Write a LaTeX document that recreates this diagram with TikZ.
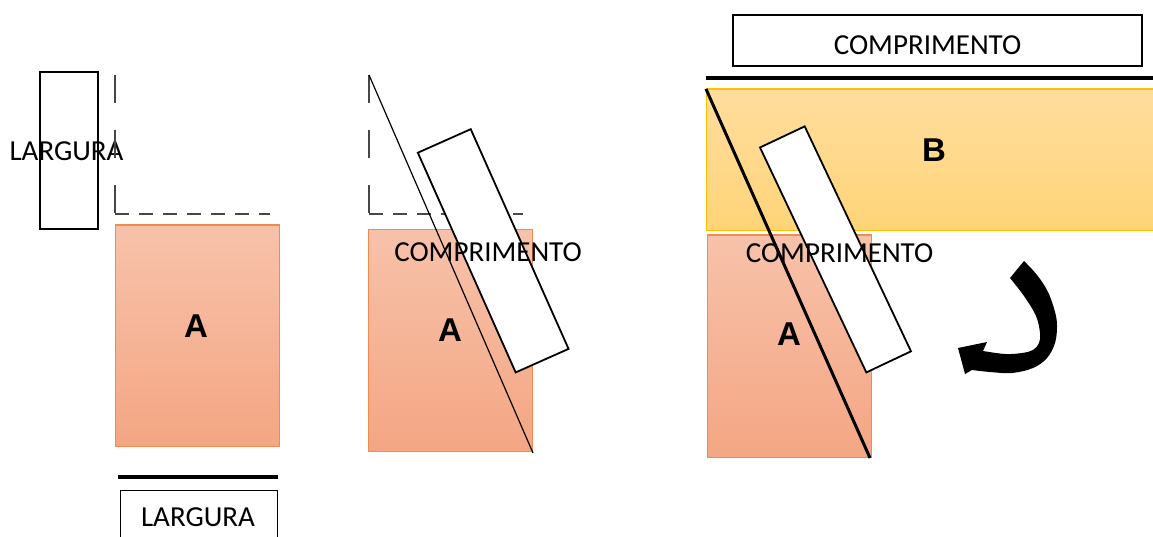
\documentclass[tikz,border=0pt]{standalone}
\usepackage{fontspec}
\setmainfont{Carlito}
\newfontfamily\arialb{Liberation Sans}
\definecolor{aTop}{RGB}{247,194,170}
\definecolor{aBot}{RGB}{244,166,131}
\definecolor{aLine}{RGB}{240,138,78}
\definecolor{bTop}{RGB}{255,221,158}
\definecolor{bBot}{RGB}{255,212,120}
\definecolor{bLine}{RGB}{255,192,0}
\definecolor{dashc}{RGB}{70,70,70}
\begin{document}
\begin{tikzpicture}[x=1pt,y=-1pt,
  lbl/.style={font=\fontsize{29}{34}\selectfont, inner sep=0pt},
  big/.style={font=\arialb\bfseries\fontsize{33}{38}\selectfont, inner sep=0pt},
  textbox/.style={draw=black, line width=1.8pt, fill=white, inner sep=0pt},
  abox/.style={draw=aLine, line width=1.2pt, top color=aTop, bottom color=aBot, inner sep=0pt, anchor=north west},
  bbox/.style={draw=bLine, line width=1.2pt, top color=bTop, bottom color=bBot, inner sep=0pt, anchor=north west},
  tiltbox/.style={draw=black, line width=1.8pt, fill=white, inner sep=0pt},
  dashV/.style={draw=dashc, line width=1.3pt, dash pattern=on 28pt off 27pt},
  dashH/.style={draw=dashc, line width=1.3pt, dash pattern=on 14pt off 10pt},
  thickline/.style={draw=black, line width=3.8pt},
  diag/.style={draw=black, line width=1.2pt},
  diagthick/.style={draw=black, line width=3pt}
]
\useasboundingbox (0,0) rectangle (1153,537);
\clip (0,0) rectangle (1153,537);

% ---------- left panel ----------
\node[textbox, anchor=north west, minimum width=58pt, minimum height=157pt] (lbox) at (39,71) {};
\node[lbl] (ltext) at (66.5,151) {LARGURA};
\coordinate (d1t) at (115,75);
\coordinate (d1c) at (115,214);
\coordinate (d1r) at (270,214);
\draw[dashV] (d1t) -- (d1c);
\draw[dashH] (d1c) -- (d1r);
\node[abox, minimum width=164pt, minimum height=221pt] (A1) at (114.5,224.5) {};
\node[big] (A1t) at (196,326) {A};
\coordinate (w1) at (118,477);
\coordinate (w2) at (278,477);
\draw[thickline] (w1) -- (w2);
\node[textbox, anchor=north west, minimum width=157pt, minimum height=60pt] (bbox1) at (119.5,489.5) {};
\node[lbl] (btext) at (198,517.5) {LARGURA};

% ---------- middle panel ----------
\coordinate (d2t) at (369,75);
\coordinate (d2c) at (369,214);
\coordinate (d2r) at (523,214);
\draw[dashV] (d2t) -- (d2c);
\draw[dashH] (d2c) -- (d2r);
\node[abox, minimum width=164pt, minimum height=222pt] (A2) at (368,229) {};
\coordinate (m1) at (369,75);
\coordinate (m2) at (533,453);
\draw[diag] (m1) -- (m2);
\node[tiltbox, rotate=24, minimum width=57.9pt, minimum height=240.5pt] (r2) at (493.2,250.8) {};
\node[big] (A2t) at (450,330) {A};
\node[lbl] (c2) at (488,252) {COMPRIMENTO};

% ---------- right panel ----------
\node[textbox, anchor=north west, minimum width=409pt, minimum height=50.5pt] (tbox) at (732,14.5) {};
\node[lbl] (ttext) at (927.5,45) {COMPRIMENTO};
\coordinate (t1) at (706,78.3);
\coordinate (t2) at (1160,78.3);
\draw[thickline] (t1) -- (t2);
\node[bbox, minimum width=454pt, minimum height=141.5pt] (B) at (706,88.5) {};
\node[big] (Bt) at (934,150) {B};
\node[abox, minimum width=164pt, minimum height=222pt] (A3) at (707,234.5) {};
\node[tiltbox, rotate=25.3, minimum width=49.4pt, minimum height=248.8pt] (r3) at (835.5,249.4) {};
\coordinate (s1) at (706,89);
\coordinate (s2) at (870,458);
\draw[diagthick] (s1) -- (s2);
\node[big] (A3t) at (789,334) {A};
\node[lbl] (c3) at (839.5,253.5) {COMPRIMENTO};

% curved arrow
\fill[black] (1024,261)
  -- plot[smooth, tension=0.6] coordinates {(1024,261) (1037,275) (1048,292) (1055,312) (1057,326) (1055,343) (1047,358) (1033,368) (1012,373) (990,372) (972,370)}
  -- (965,374) -- (958,348) -- (987,342)
  -- plot[smooth, tension=0.6] coordinates {(983,351) (1005,354) (1022,353) (1033,350) (1039,343) (1040,333) (1036,316) (1024,296) (1010,278)}
  -- cycle;
\end{tikzpicture}
\end{document}
